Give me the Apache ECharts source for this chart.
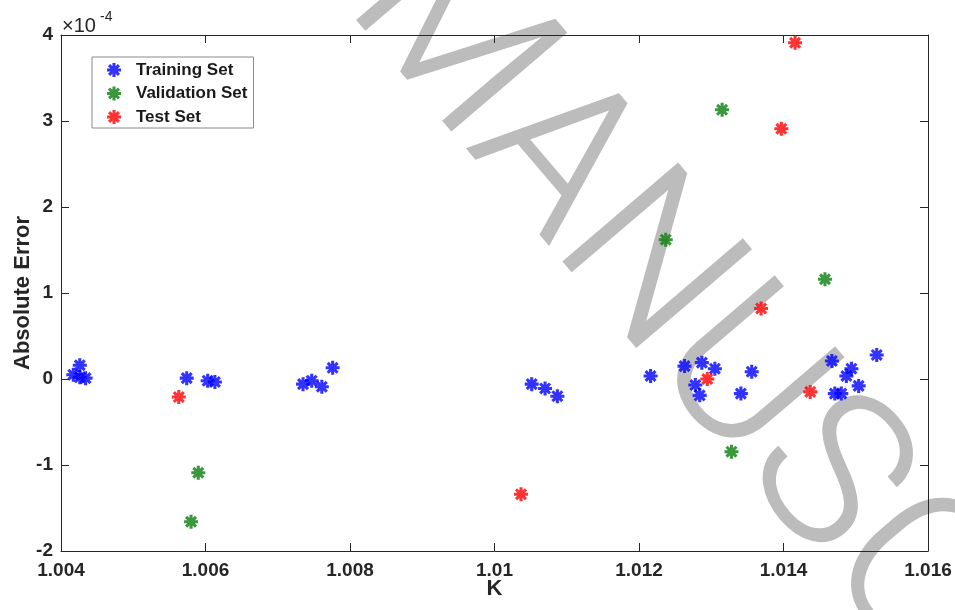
<!DOCTYPE html>
<html>
<head>
<meta charset="utf-8">
<script src="https://cdn.jsdelivr.net/npm/echarts@6/dist/echarts.min.js"></script>
<style>html,body{margin:0;padding:0;background:#fff}#c{width:955px;height:610px}</style>
</head>
<body>
<div id="c"></div>
<script>
// Values of Absolute Error are in units of 1e-4 (axis shows ×10^-4)
const trainK = [1.00417,1.00426,1.00426,1.00434,1.00574,1.00603,1.00613,1.00735,1.00747,1.00761,1.00776,
  1.010515,1.0107,1.01087,1.01216,1.01263,1.01287,1.01305,1.01278,1.01284,1.01356,1.01341,
  1.01467,1.01494,1.01487,1.01504,1.01471,1.0148,1.01529];
const trainErr = [0.05,0.16,0.02,0.01,0.01,-0.02,-0.035,-0.06,-0.02,-0.09,0.13,
  -0.06,-0.11,-0.2,0.035,0.15,0.19,0.12,-0.07,-0.19,0.085,-0.17,
  0.21,0.12,0.035,-0.08,-0.17,-0.17,0.28];
const valK = [1.0058,1.0059,1.01237,1.01315,1.01328,1.014574];
const valErr = [-1.66,-1.09,1.62,3.13,-0.845,1.16];
const testK = [1.00563,1.010367,1.012945,1.01369,1.01397,1.01416,1.01437];
const testErr = [-0.21,-1.34,0.0,0.82,2.91,3.91,-0.15];
const xTicks = {min:1.004, max:1.016, step:0.002};
const yTicks = {min:-2, max:4, step:1};
const seriesNames = ['Training Set','Validation Set','Test Set'];

const ast = 'path://M-10,-2.2L10,-2.2L10,2.2L-10,2.2Z' +
  'M-2.2,-10L2.2,-10L2.2,10L-2.2,10Z' +
  'M-8.63,-5.51L-5.51,-8.63L8.63,5.51L5.51,8.63Z' +
  'M-5.51,8.63L-8.63,5.51L5.51,-8.63L8.63,-5.51Z';

const zip = (a,b) => a.map((v,i)=>[v,b[i]]);
const axisCol = '#262626';
const font = '"Liberation Sans", Arial, sans-serif';

const chart = echarts.init(document.getElementById('c'), null, {renderer:'canvas'});
const mkX = (pos, extra) => Object.assign({type:'value', position:pos, min:xTicks.min, max:xTicks.max, interval:xTicks.step,
  splitLine:{show:false}, axisLine:{show:true, onZero:false, lineStyle:{color:axisCol, width:1}},
  axisTick:{show:true, inside:true, length:8, lineStyle:{color:axisCol, width:1}}}, extra);
const mkY = (pos, extra) => Object.assign({type:'value', position:pos, min:yTicks.min, max:yTicks.max, interval:yTicks.step,
  splitLine:{show:false}, axisLine:{show:true, onZero:false, lineStyle:{color:axisCol, width:1}},
  axisTick:{show:true, inside:true, length:8, lineStyle:{color:axisCol, width:1}}}, extra);

const wmAngle = 49.5 * Math.PI / 180;

chart.setOption({
  animation:false,
  backgroundColor:'#fff',
  grid:{left:61, right:27, top:35, bottom:59, containLabel:false, outerBoundsMode:'none'},
  xAxis:[
    mkX('bottom', {name:'K', nameLocation:'middle', nameGap:27, nameMoveOverlap:false,
      nameTextStyle:{fontSize:22, fontWeight:'bold', color:'#262626', fontFamily:font},
      axisLabel:{show:true, margin:10, fontSize:19, fontWeight:'bold', color:'#262626', fontFamily:font,
        formatter:v=>String(+v.toFixed(3))}}),
    mkX('top', {axisLabel:{show:false}})
  ],
  yAxis:[
    mkY('left', {name:'Absolute Error', nameLocation:'middle', nameGap:27, nameMoveOverlap:false,
      nameTextStyle:{fontSize:22, fontWeight:'bold', color:'#262626', fontFamily:font},
      axisLabel:{show:true, margin:8, fontSize:19, fontWeight:'bold', color:'#262626', fontFamily:font}}),
    mkY('right', {axisLabel:{show:false}})
  ],
  legend:{
    orient:'vertical', left:92, top:57, padding:[4.5,6,2.5,15],
    backgroundColor:'#fff', borderColor:'#8a8a8a', borderWidth:1,
    itemWidth:14, itemHeight:14, itemGap:6.5,
    textStyle:{fontSize:17, fontWeight:'bold', color:'#1a1a1a', fontFamily:font, padding:[0,0,0,10]},
    data:seriesNames
  },
  graphic:[
    {type:'text', silent:true, z:-10, x:385, y:-29, rotation:-wmAngle,
      style:{text:'MANUSCRIPT', font:'300 212px Roboto, "Liberation Sans"', fill:'#bcbcbc',
        stroke:'#bcbcbc', lineWidth:1.5, align:'left', verticalAlign:'middle'}},
    {type:'text', x:62, y:26, style:{text:'×10', font:'20px "Liberation Sans"', fill:'#262626', verticalAlign:'middle'}},
    {type:'text', x:100, y:17, style:{text:'-4', font:'14px "Liberation Sans"', fill:'#262626', verticalAlign:'middle'}}
  ],
  series:[
    {name:seriesNames[0], type:'scatter', symbol:ast, symbolSize:14, itemStyle:{color:'#0000ff'}, data:zip(trainK,trainErr), z:5},
    {name:seriesNames[1], type:'scatter', symbol:ast, symbolSize:14, itemStyle:{color:'#0a7d0a'}, data:zip(valK,valErr), z:5},
    {name:seriesNames[2], type:'scatter', symbol:ast, symbolSize:14, itemStyle:{color:'#ff0000'}, data:zip(testK,testErr), z:5}
  ]
});
</script>
</body>
</html>
